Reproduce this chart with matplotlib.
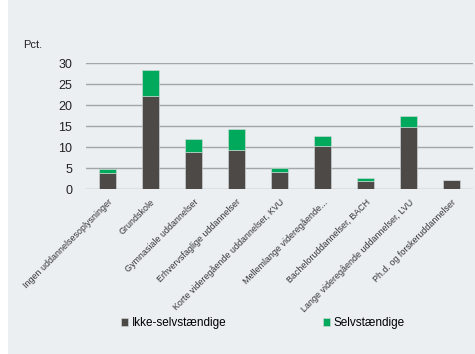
import numpy as np
import matplotlib.pyplot as plt
from matplotlib.patches import Rectangle

categories = [
    'Ingen uddannelsesoplysninger',
    'Grundskole',
    'Gymnasiale uddannelser',
    'Erhvervsfaglige uddannelser',
    'Korte videregående uddannelser, KVU',
    'Mellemlange videregående...',
    'Bacheloruddannelser, BACH',
    'Lange videregående uddannelser, LVU',
    'Ph.d. og forskeruddannelser',
]
ikke_selvst = [3.75, 22.3, 8.9, 9.3, 4.0, 10.3, 1.8, 14.8, 2.1]
selvst = [0.95, 6.1, 3.1, 5.0, 1.0, 2.35, 0.75, 2.7, 0.05]

dark = '#4d4946'
green = '#00a95c'
bg = '#ebeff2'

plt.rcParams['font.family'] = ['Liberation Sans', 'DejaVu Sans']

fig = plt.figure(figsize=(4.75, 3.54), dpi=100)
fig.patches.append(Rectangle((8 / 475, 0), 1, 1, transform=fig.transFigure,
                             facecolor=bg, edgecolor='none', zorder=-10))

ax = fig.add_axes([86 / 475, 1 - 189 / 354, (473 - 86) / 475, (189 - 63.3) / 354])
ax.set_facecolor('none')

x = np.arange(len(categories))
ax.bar(x, ikke_selvst, width=0.4, color=dark, edgecolor='#d8dcdf', linewidth=0.4,
       label='Ikke-selvstændige', zorder=3)
ax.bar(x, selvst, width=0.4, bottom=ikke_selvst, color=green, edgecolor='#d8dcdf',
       linewidth=0.4, label='Selvstændige', zorder=3)

ax.set_xlim(-0.5, len(categories) - 0.5)
ax.set_ylim(0, 30)
ax.set_yticks(range(0, 31, 5))
ax.yaxis.grid(True, color='#a3a5a7', linewidth=1.0, zorder=0)
for s in ax.spines.values():
    s.set_visible(False)
ax.tick_params(axis='y', length=0, labelsize=9, pad=10, labelcolor='#222222')
ax.tick_params(axis='x', length=0, pad=6)
ax.set_xticks(x)
ax.set_xticklabels(categories, rotation=45, ha='right', rotation_mode='anchor',
                   fontsize=6.4, color='#333333')

fig.text(23 / 475, 1 - 48 / 354, 'Pct.', fontsize=8, color='#222222')

handles, labels = ax.get_legend_handles_labels()
leg_kw = dict(loc='center left', frameon=False, fontsize=8.5, handlelength=0.6,
              handleheight=0.6, handletextpad=0.3, borderpad=0, borderaxespad=0)
fig.legend(handles[:1], labels[:1], bbox_to_anchor=(121 / 475, 1 - 323 / 354), **leg_kw)
fig.legend(handles[1:], labels[1:], bbox_to_anchor=(323 / 475, 1 - 323 / 354), **leg_kw)

fig.savefig('out.png', dpi=100)
